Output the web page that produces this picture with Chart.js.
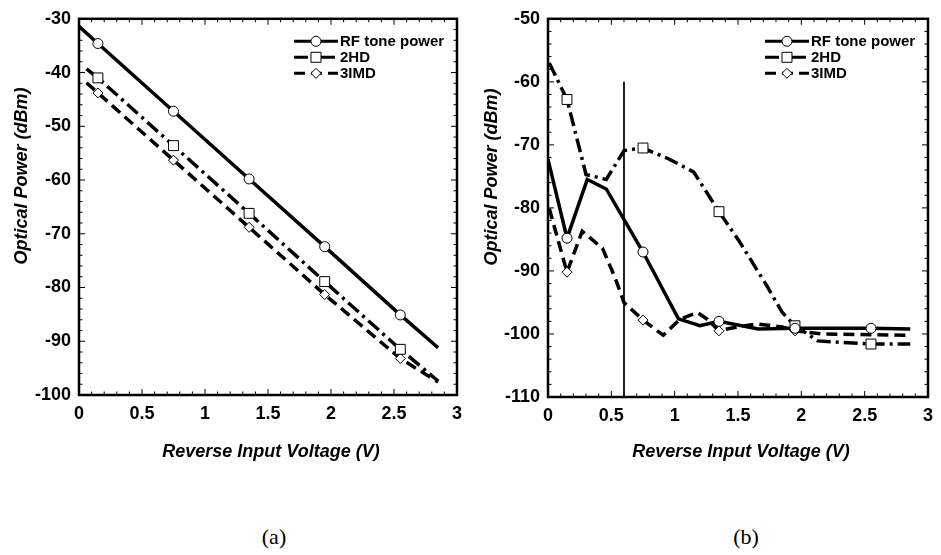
<!DOCTYPE html>
<html>
<head>
<meta charset="utf-8">
<script src="https://cdn.jsdelivr.net/npm/chart.js@4.4.1/dist/chart.umd.min.js"></script>
<style>
  body { margin: 0; background: #fff; }
  #page { position: relative; width: 941px; height: 555px; overflow: hidden; background: #fff; }
  .panel { position: absolute; top: 0; height: 470px; }
  .cap { position: absolute; font-family: 'Liberation Serif', 'Times New Roman', serif; font-size: 22px; transform: translate(-50%, -50%); }
</style>
</head>
<body>
<div id="page">
  <div class="panel" style="left:0;width:470px"><canvas id="chartA"></canvas></div>
  <div class="panel" style="left:470px;width:471px"><canvas id="chartB"></canvas></div>
  <div class="cap" style="left:274px;top:537px">(a)</div>
  <div class="cap" style="left:746px;top:537px">(b)</div>
</div>
<script>
const seriesNames = ['RF tone power', '2HD', '3IMD'];
const xTitle = 'Reverse Input Voltage (V)';
const yTitle = 'Optical Power (dBm)';

// tick labels
const xTicks = [0, 0.5, 1, 1.5, 2, 2.5, 3];
const aYTicks = [-100, -90, -80, -70, -60, -50, -40, -30];
const bYTicks = [-110, -100, -90, -80, -70, -60, -50];

// bias points where markers were measured
const markerX = [0.15, 0.75, 1.35, 1.95, 2.55];

// (a)
const aRfX = [0, 0.15, 0.75, 1.35, 1.95, 2.55, 2.85];
const aRfY = [-31.4, -34.6, -47.2, -59.8, -72.4, -85.1, -91.2];
const a2hdX = [0.06, 0.15, 0.75, 1.35, 1.95, 2.55, 2.85];
const a2hdY = [-39.3, -41.0, -53.6, -66.2, -78.9, -91.5, -97.4];
const a3imdX = [0.06, 0.15, 0.75, 1.35, 1.95, 2.55, 2.85];
const a3imdY = [-41.9, -43.8, -56.3, -68.8, -81.3, -93.2, -97.6];

// (b)
const bRfX = [0, 0.15, 0.31, 0.46, 0.75, 1.03, 1.2, 1.35, 1.66, 1.95, 2.55, 2.86];
const bRfY = [-72.3, -84.8, -75.5, -77.0, -87.0, -97.6, -98.7, -98.0, -99.2, -99.1, -99.1, -99.2];
const b2hdX = [0.01, 0.15, 0.3, 0.46, 0.6, 0.75, 0.95, 1.15, 1.35, 1.51, 1.72, 1.85, 1.95, 2.13, 2.55, 2.86];
const b2hdY = [-57.0, -62.8, -74.7, -75.5, -70.9, -70.5, -72.2, -74.3, -80.6, -85.3, -92.1, -96.6, -98.7, -101.1, -101.6, -101.6];
const b3imdX = [0.01, 0.15, 0.27, 0.43, 0.53, 0.6, 0.75, 0.91, 1.04, 1.18, 1.26, 1.35, 1.44, 1.65, 1.85, 1.95, 2.16, 2.86];
const b3imdY = [-80.1, -90.2, -83.7, -86.4, -91.1, -95.0, -97.8, -100.2, -97.7, -96.6, -97.7, -99.5, -99.1, -98.4, -98.9, -99.5, -100.0, -100.2];
const bMarkX = [0.6, 0.6];
const bMarkY = [-60, -110];

const FONT = '"Liberation Sans", Arial, sans-serif';
const DASH_2HD = [14, 5, 3, 5];
const DASH_3IMD = [11, 6];

function series(xs, ys, label, style, dash, r) {
  return {
    label: label,
    data: xs.map((x, i) => ({ x: x, y: ys[i] })),
    showLine: true,
    borderColor: '#000',
    borderWidth: 3.5,
    borderDash: dash,
    pointStyle: style,
    pointBackgroundColor: '#fff',
    pointBorderColor: '#000',
    pointBorderWidth: 1,
    pointRadius: c => markerX.includes(xs[c.dataIndex]) ? r : 0,
    pointHoverRadius: 0
  };
}

function drawMarker(ctx, style, x, y) {
  ctx.beginPath();
  if (style === 'circle') ctx.arc(x, y, 5, 0, Math.PI * 2);
  else if (style === 'rect') ctx.rect(x - 5, y - 5, 10, 10);
  else { ctx.moveTo(x, y - 5); ctx.lineTo(x + 5, y); ctx.lineTo(x, y + 5); ctx.lineTo(x - 5, y); ctx.closePath(); }
  ctx.setLineDash([]);
  ctx.fillStyle = '#fff';
  ctx.fill();
  ctx.lineWidth = 1;
  ctx.stroke();
}

// frame, inward ticks, axis titles and legend
const frame = {
  id: 'frame',
  afterDraw(chart) {
    const { ctx, chartArea: a, scales: { x, y } } = chart;
    ctx.save();
    ctx.strokeStyle = '#000';
    ctx.lineWidth = 1;
    ctx.beginPath();
    for (let i = 0; i <= 30; i++) {
      const px = x.getPixelForValue(i / 10);
      const len = i % 5 === 0 ? 6 : 3.5;
      ctx.moveTo(px, a.bottom); ctx.lineTo(px, a.bottom - len);
      ctx.moveTo(px, a.top); ctx.lineTo(px, a.top + len);
    }
    for (let v = y.min; v <= y.max; v += 2) {
      const py = y.getPixelForValue(v);
      const len = v % 10 === 0 ? 6 : 3.5;
      ctx.moveTo(a.left, py); ctx.lineTo(a.left + len, py);
      ctx.moveTo(a.right, py); ctx.lineTo(a.right - len, py);
    }
    ctx.stroke();
    ctx.lineWidth = 2.5;
    ctx.strokeRect(a.left, a.top, a.width, a.height);

    ctx.fillStyle = '#000';
    ctx.font = 'italic bold 18px ' + FONT;
    ctx.textAlign = 'center';
    ctx.textBaseline = 'middle';
    ctx.fillText(xTitle, (a.left + a.right) / 2 + 3, 452);
    ctx.save();
    ctx.translate(22.5, (a.top + a.bottom) / 2 - 31);
    ctx.rotate(-Math.PI / 2);
    ctx.fillText(yTitle, 0, 0);
    ctx.restore();

    ctx.font = 'bold 15px ' + FONT;
    ctx.textAlign = 'left';
    chart.data.datasets.filter(d => seriesNames.includes(d.label)).forEach((d, i) => {
      const ly = a.top + 22.5 + i * 16;
      const x0 = a.right - 163, x1 = a.right - 119;
      ctx.beginPath();
      ctx.setLineDash(d.borderDash);
      ctx.lineWidth = 3;
      ctx.moveTo(x0, ly); ctx.lineTo(x1, ly);
      ctx.stroke();
      drawMarker(ctx, d.pointStyle, (x0 + x1) / 2, ly);
      ctx.fillStyle = '#000';
      ctx.fillText(d.label, a.right - 117, ly + 1);
    });
    ctx.restore();
  }
};

function makeChart(id, datasets, yTicks, pad, yWidth, xHeight) {
  const tickFont = { family: FONT, size: 18, weight: 'bold' };
  return new Chart(document.getElementById(id), {
    type: 'scatter',
    data: { datasets: datasets },
    options: {
      responsive: true,
      maintainAspectRatio: false,
      animation: false,
      layout: { padding: pad },
      plugins: { legend: { display: false }, tooltip: { enabled: false } },
      scales: {
        x: {
          type: 'linear',
          min: xTicks[0],
          max: xTicks[xTicks.length - 1],
          afterBuildTicks: s => { s.ticks = xTicks.map(v => ({ value: v })); },
          afterFit: s => { s.height = xHeight; },
          grid: { display: false, drawTicks: false },
          border: { display: false },
          ticks: { color: '#000', font: tickFont, padding: 8, maxRotation: 0, autoSkip: false, callback: v => String(v) }
        },
        y: {
          min: yTicks[0],
          max: yTicks[yTicks.length - 1],
          afterBuildTicks: s => { s.ticks = yTicks.map(v => ({ value: v })); },
          afterFit: s => { s.width = yWidth; },
          grid: { display: false, drawTicks: false },
          border: { display: false },
          ticks: { color: '#000', font: tickFont, padding: 8, autoSkip: false, callback: v => String(v) }
        }
      }
    },
    plugins: [frame]
  });
}

makeChart('chartA', [
  series(aRfX, aRfY, seriesNames[0], 'circle', [], 5),
  series(a2hdX, a2hdY, seriesNames[1], 'rect', DASH_2HD, 7),
  series(a3imdX, a3imdY, seriesNames[2], 'rectRot', DASH_3IMD, 5)
], aYTicks, { top: 13, right: 8, left: 0, bottom: 0 }, 79, 75);

makeChart('chartB', [
  series(bRfX, bRfY, seriesNames[0], 'circle', [], 5),
  series(b2hdX, b2hdY, seriesNames[1], 'rect', DASH_2HD, 7),
  series(b3imdX, b3imdY, seriesNames[2], 'rectRot', DASH_3IMD, 5),
  { label: '', data: bMarkX.map((x, i) => ({ x: x, y: bMarkY[i] })), showLine: true,
    borderColor: '#000', borderWidth: 1, pointRadius: 0 }
], bYTicks, { top: 16, right: 6, left: 0, bottom: 0 }, 78, 73);
</script>
</body>
</html>
